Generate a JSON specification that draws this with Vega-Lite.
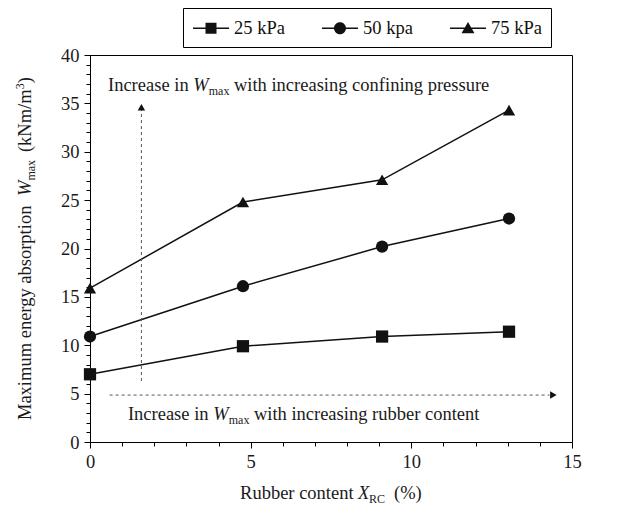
{
  "$schema": "https://vega.github.io/schema/vega-lite/v6.json",
  "width": 482,
  "height": 387,
  "autosize": {"type": "none"},
  "padding": {"left": 90, "top": 55, "right": 56, "bottom": 63},
  "background": "white",
  "config": {
    "view": {"stroke": "black", "strokeWidth": 1},
    "font": "Liberation Serif",
    "axis": {
      "grid": false,
      "domainColor": "black",
      "tickColor": "black",
      "labelFont": "Liberation Serif",
      "labelColor": "#1a1a1a",
      "labelOverlap": false,
      "labelFlush": false,
      "labelBound": false,
      "title": null
    },
    "axisX": {"tickCount": 100, "labelPadding": 4},
    "axisY": {"tickCount": 100, "labelPadding": 5},
    "legend": {"labelFont": "Liberation Serif", "labelFontSize": 18.5, "labelColor": "#111"},
    "text": {"font": "Liberation Serif", "fontSize": 18.5, "fontWeight": "normal", "color": "#1a1a1a", "align": "left", "baseline": "alphabetic"}
  },
  "datasets": {
    "energy": [
      {"pressure": "25 kPa", "rc": 0, "w": 7.0},
      {"pressure": "25 kPa", "rc": 4.76, "w": 9.9},
      {"pressure": "25 kPa", "rc": 9.09, "w": 10.9},
      {"pressure": "25 kPa", "rc": 13.04, "w": 11.4},
      {"pressure": "50 kpa", "rc": 0, "w": 10.9},
      {"pressure": "50 kpa", "rc": 4.76, "w": 16.1},
      {"pressure": "50 kpa", "rc": 9.09, "w": 20.2},
      {"pressure": "50 kpa", "rc": 13.04, "w": 23.1},
      {"pressure": "75 kPa", "rc": 0, "w": 15.9},
      {"pressure": "75 kPa", "rc": 4.76, "w": 24.8},
      {"pressure": "75 kPa", "rc": 9.09, "w": 27.1},
      {"pressure": "75 kPa", "rc": 13.04, "w": 34.3}
    ],
    "one": [{}]
  },
  "resolve": {"scale": {"shape": "independent"}, "legend": {"shape": "independent"}},
  "layer": [
    {
      "data": {"name": "energy"},
      "mark": {"type": "line", "color": "#111", "strokeWidth": 1.5},
      "encoding": {
        "x": {
          "field": "rc", "type": "quantitative",
          "scale": {"domain": [0, 15], "nice": false, "zero": false},
          "axis": {
            "values": [0,1,2,3,4,5,6,7,8,9,10,11,12,13,14,15],
            "tickCount": 100,
            "format": "d",
            "labelFont": "Liberation Serif",
            "labelExpr": "datum.value % 5 === 0 ? datum.label : ''",
            "labelFontSize": {"condition": {"test": "datum.value % 5 === 0", "value": 18.5}, "value": 0.1},
            "tickSize": {"condition": {"test": "datum.value % 5 === 0", "value": 6}, "value": 4},
            "labelOverlap": false
          }
        },
        "y": {
          "field": "w", "type": "quantitative",
          "scale": {"domain": [0, 40], "nice": false, "zero": false},
          "axis": {
            "values": [0,1,2,3,4,5,6,7,8,9,10,11,12,13,14,15,16,17,18,19,20,21,22,23,24,25,26,27,28,29,30,31,32,33,34,35,36,37,38,39,40],
            "tickCount": 100,
            "format": "d",
            "labelFont": "Liberation Serif",
            "labelExpr": "datum.value % 5 === 0 ? datum.label : ''",
            "labelFontSize": {"condition": {"test": "datum.value % 5 === 0", "value": 18.5}, "value": 0.1},
            "tickSize": {"condition": {"test": "datum.value % 5 === 0", "value": 6}, "value": 4},
            "labelOverlap": false
          }
        },
        "detail": {"field": "pressure"}
      }
    },
    {
      "data": {"name": "energy"},
      "mark": {"type": "point", "filled": true, "color": "#111", "size": 150, "opacity": 1},
      "encoding": {
        "x": {"field": "rc", "type": "quantitative"},
        "y": {"field": "w", "type": "quantitative"},
        "shape": {
          "field": "pressure", "type": "nominal",
          "scale": {"domain": ["25 kPa", "50 kpa", "75 kPa"], "range": ["square", "circle", "triangle-up"]},
          "legend": null
        }
      }
    },
    {
      "data": {"name": "energy"},
      "mark": {"type": "point", "filled": true, "color": "#111", "size": 0, "opacity": 1},
      "encoding": {
        "x": {"field": "rc", "type": "quantitative"},
        "y": {"field": "w", "type": "quantitative"},
        "shape": {
          "field": "pressure", "type": "nominal",
          "scale": {
            "domain": ["25 kPa", "50 kpa", "75 kPa"],
            "range": [
              "M-1,-0.07H2.6V0.07H-1ZM0.25,-0.55H1.35V0.55H0.25Z",
              "M-1,-0.07H2.6V0.07H-1ZM0.2,0A0.6,0.6,0,1,1,1.4,0A0.6,0.6,0,1,1,0.2,0Z",
              "M-1,-0.07H2.6V0.07H-1ZM0.8,-0.62L1.45,0.5L0.15,0.5Z"
            ]
          },
          "legend": {
            "orient": "none",
            "legendX": 93,
            "legendY": -47,
            "direction": "horizontal",
            "title": null,
            "strokeColor": "black",
            "padding": 9,
            "columnPadding": 34,
            "labelOffset": 20,
            "labelFont": "Liberation Serif",
            "symbolSize": 400,
            "encode": {
              "symbols": {
                "update": {
                  "size": {"value": 400},
                  "fill": {"value": "#111"},
                  "opacity": {"value": 1}
                }
              }
            }
          }
        }
      }
    },
    {
      "data": {"name": "one"},
      "mark": {"type": "rule", "color": "#555", "strokeWidth": 1, "strokeDash": [3, 3]},
      "encoding": {"x": {"datum": 1.6}, "y": {"datum": 6.3}, "y2": {"datum": 34.4}}
    },
    {
      "data": {"name": "one"},
      "mark": {"type": "point", "shape": "triangle-up", "filled": true, "color": "#111", "size": 55, "opacity": 1},
      "encoding": {"x": {"datum": 1.6}, "y": {"datum": 34.6}}
    },
    {
      "data": {"name": "one"},
      "mark": {"type": "rule", "color": "#555", "strokeWidth": 1, "strokeDash": [3, 3]},
      "encoding": {"x": {"datum": 0.61}, "x2": {"datum": 14.3}, "y": {"datum": 4.85}}
    },
    {
      "data": {"name": "one"},
      "mark": {"type": "point", "shape": "triangle-right", "filled": true, "color": "#111", "size": 55, "opacity": 1},
      "encoding": {"x": {"datum": 14.42}, "y": {"datum": 4.85}}
    },
    {"data": {"name": "one"}, "mark": {"type": "text"}, "encoding": {"x": {"datum": 0.56}, "y": {"datum": 36.28}, "text": {"value": "Increase in"}}},
    {"data": {"name": "one"}, "mark": {"type": "text", "fontStyle": "italic"}, "encoding": {"x": {"datum": 3.215}, "y": {"datum": 36.28}, "text": {"value": "W"}}},
    {"data": {"name": "one"}, "mark": {"type": "text", "fontSize": 12}, "encoding": {"x": {"datum": 3.695}, "y": {"datum": 35.87}, "text": {"value": "max"}}},
    {"data": {"name": "one"}, "mark": {"type": "text"}, "encoding": {"x": {"datum": 4.48}, "y": {"datum": 36.28}, "text": {"value": "with increasing confining pressure"}}},
    {"data": {"name": "one"}, "mark": {"type": "text"}, "encoding": {"x": {"datum": 1.18}, "y": {"datum": 2.27}, "text": {"value": "Increase in"}}},
    {"data": {"name": "one"}, "mark": {"type": "text", "fontStyle": "italic"}, "encoding": {"x": {"datum": 3.838}, "y": {"datum": 2.27}, "text": {"value": "W"}}},
    {"data": {"name": "one"}, "mark": {"type": "text", "fontSize": 12}, "encoding": {"x": {"datum": 4.318}, "y": {"datum": 1.86}, "text": {"value": "max"}}},
    {"data": {"name": "one"}, "mark": {"type": "text"}, "encoding": {"x": {"datum": 5.10}, "y": {"datum": 2.27}, "text": {"value": "with increasing rubber content"}}},
    {"data": {"name": "one"}, "mark": {"type": "text"}, "encoding": {"x": {"datum": 4.67}, "y": {"datum": -5.89}, "text": {"value": "Rubber content"}}},
    {"data": {"name": "one"}, "mark": {"type": "text", "fontStyle": "italic"}, "encoding": {"x": {"datum": 8.34}, "y": {"datum": -5.89}, "text": {"value": "X"}}},
    {"data": {"name": "one"}, "mark": {"type": "text", "fontSize": 12}, "encoding": {"x": {"datum": 8.68}, "y": {"datum": -6.30}, "text": {"value": "RC"}}},
    {"data": {"name": "one"}, "mark": {"type": "text"}, "encoding": {"x": {"datum": 9.46}, "y": {"datum": -5.89}, "text": {"value": "(%)"}}},
    {"data": {"name": "one"}, "mark": {"type": "text", "angle": 270}, "encoding": {"x": {"datum": -1.84}, "y": {"datum": 2.27}, "text": {"value": "Maximum energy absorption"}}},
    {"data": {"name": "one"}, "mark": {"type": "text", "angle": 270, "fontStyle": "italic"}, "encoding": {"x": {"datum": -1.84}, "y": {"datum": 25.43}, "text": {"value": "W"}}},
    {"data": {"name": "one"}, "mark": {"type": "text", "angle": 270, "fontSize": 12}, "encoding": {"x": {"datum": -1.70}, "y": {"datum": 27.02}, "text": {"value": "max"}}},
    {"data": {"name": "one"}, "mark": {"type": "text", "angle": 270}, "encoding": {"x": {"datum": -1.84}, "y": {"datum": 29.97}, "text": {"value": "(kNm/m"}}},
    {"data": {"name": "one"}, "mark": {"type": "text", "angle": 270, "fontSize": 12}, "encoding": {"x": {"datum": -2.05}, "y": {"datum": 36.46}, "text": {"value": "3"}}},
    {"data": {"name": "one"}, "mark": {"type": "text", "angle": 270}, "encoding": {"x": {"datum": -1.84}, "y": {"datum": 37.07}, "text": {"value": ")"}}}
  ]
}
